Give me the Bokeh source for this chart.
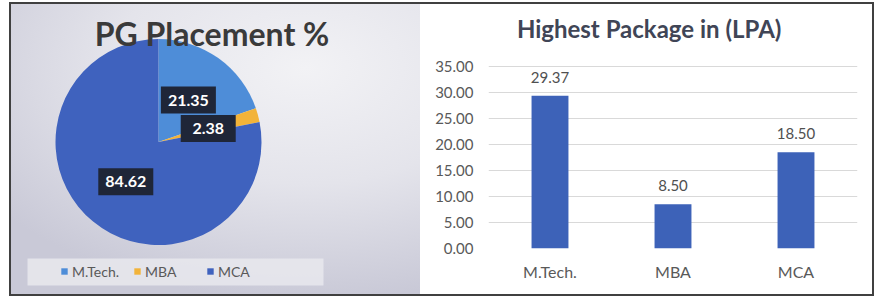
import numpy as np
from bokeh.plotting import figure
from bokeh.layouts import row
from bokeh.models import (Range1d, Label, Legend, LegendItem, BoxAnnotation, ColumnDataSource,
                          FixedTicker, NumeralTickFormatter, FactorRange)
from bokeh.embed import file_html
from bokeh.resources import INLINE
from bokeh.core.properties import value

# ---- data ----
programs = ["M.Tech.", "MBA", "MCA"]
placement_pct = [21.35, 2.38, 84.62]
highest_package = [29.37, 8.50, 18.50]
y_ticks = [0, 5, 10, 15, 20, 25, 30, 35]

pie_colors = ["#4E8DD8", "#F2B33A", "#3F62BE"]
bar_color = "#3D62B8"
FONT = "Lato"

# ---- pie chart ----
vals = np.array(placement_pct)
frac = vals / vals.sum()
cum = np.concatenate([[0.0], np.cumsum(frac)])
start = np.pi / 2 - 2 * np.pi * cum[:-1]
end = np.pi / 2 - 2 * np.pi * cum[1:]
mid = (start + end) / 2
cx, cy, R = 147, 152.5, 103
lx = cx + 0.5 * R * np.cos(mid)
ly = cy + 0.5 * R * np.sin(mid)

p1 = figure(width=409, height=290, x_range=Range1d(0, 409), y_range=Range1d(0, 290),
            output_backend="svg", toolbar_location=None,
            x_axis_location=None, y_axis_location=None, min_border=0)
p1.frame_align = False
p1.grid.visible = False
p1.background_fill_alpha = 0
p1.border_fill_alpha = 0
p1.outline_line_color = None
p1.styles = {
    "background": "radial-gradient(ellipse 95% 80% at 72% 22%, #f2f2f5 0%, #e4e4eb 50%, #c9c9d7 100%)",
    "box-shadow": "-2px 0 0 #404040, 0 -2px 0 #404040, 0 2px 0 #404040, -2px -2px 0 #404040, -2px 2px 0 #404040",
}

src = ColumnDataSource(dict(program=programs, value=placement_pct, start=start, end=end,
                            color=pie_colors, lx=lx, ly=ly,
                            label=[f"{v:.2f}" for v in placement_pct]))
p1.wedge(x=cx, y=cy, radius=R, start_angle="start", end_angle="end", direction="clock",
         fill_color="color", line_color=None, source=src)
p1.rect(x="lx", y="ly", width=55, height=27, width_units="screen", height_units="screen",
        fill_color="#1f2638", line_color=None, source=src)
p1.text(x="lx", y="ly", text="label", text_align="center", text_baseline="middle",
        text_color="white", text_font=value(FONT), text_font_style="bold",
        text_font_size="16px", source=src)

p1.add_layout(Label(x=200.5, y=261, text="PG Placement %", text_align="center",
                    text_baseline="middle", text_font=FONT, text_font_size="32px",
                    text_font_style="bold", text_color="#3a3a3a"))

p1.add_layout(BoxAnnotation(left=16, right=312, bottom=9, top=36, fill_color="#e7e7ec",
                            fill_alpha=0.9, line_color=None, level="underlay"))
items = []
for prog, col in zip(programs, pie_colors):
    r = p1.scatter(x=[np.nan], y=[np.nan], marker="square", size=8, fill_color=col, line_color=None)
    items.append(LegendItem(label=prog, renderers=[r]))
legend = Legend(items=items, orientation="horizontal", location=(41, 10),
                background_fill_alpha=0, border_line_alpha=0,
                label_text_font=FONT, label_text_font_size="14px", label_text_color="#595959",
                glyph_width=16, glyph_height=16, label_standoff=0, spacing=7, padding=4,
                margin=0, label_width=50, label_height=18)
p1.add_layout(legend)

# ---- bar chart ----
# frame spans the full height above the axis; the top part holds the title
p2 = figure(width=452, height=290, x_range=FactorRange(*programs), y_range=Range1d(0, 46.92),
            output_backend="svg", toolbar_location=None,
            min_border_left=68, min_border_right=15, min_border_top=0, min_border_bottom=46)
p2.frame_align = False
p2.outline_line_color = None
p2.background_fill_color = "white"
p2.border_fill_color = "white"
p2.styles = {
    "box-shadow": "2px 0 0 #404040, 0 -2px 0 #404040, 0 2px 0 #404040, 2px -2px 0 #404040, 2px 2px 0 #404040",
}

bsrc = ColumnDataSource(dict(program=programs, value=highest_package,
                             label=[f"{v:.2f}" for v in highest_package]))
p2.vbar(x="program", top="value", width=0.3, fill_color=bar_color, line_color=None, source=bsrc)
p2.text(x="program", y="value", text="label", text_align="center", text_baseline="bottom",
        y_offset=-13, text_color="#505050", text_font=value(FONT), text_font_size="15px",
        source=bsrc)

p2.add_layout(Label(x=1.306, y=42.3, text="Highest Package in (LPA)", text_align="center",
                    text_baseline="middle", text_font=FONT, text_font_size="24px",
                    text_font_style="bold", text_color="#404556"))

p2.xgrid.visible = False
p2.ygrid.grid_line_color = "#d9d9d9"
p2.yaxis.ticker = FixedTicker(ticks=y_ticks)
p2.yaxis.formatter = NumeralTickFormatter(format="0.00")
for ax in (p2.xaxis, p2.yaxis):
    ax.axis_line_color = None
    ax.major_tick_line_color = None
    ax.minor_tick_line_color = None
    ax.major_label_text_font = FONT
    ax.major_label_text_color = "#595959"
p2.yaxis.major_label_text_font_size = "15px"
p2.yaxis.major_label_standoff = 9
p2.xaxis.major_label_text_font_size = "16px"
p2.xaxis.major_label_standoff = 7

layout = row(p1, p2, spacing=0, margin=(4, 0, 0, 11))
open("out.html", "w").write(file_html(layout, INLINE))
